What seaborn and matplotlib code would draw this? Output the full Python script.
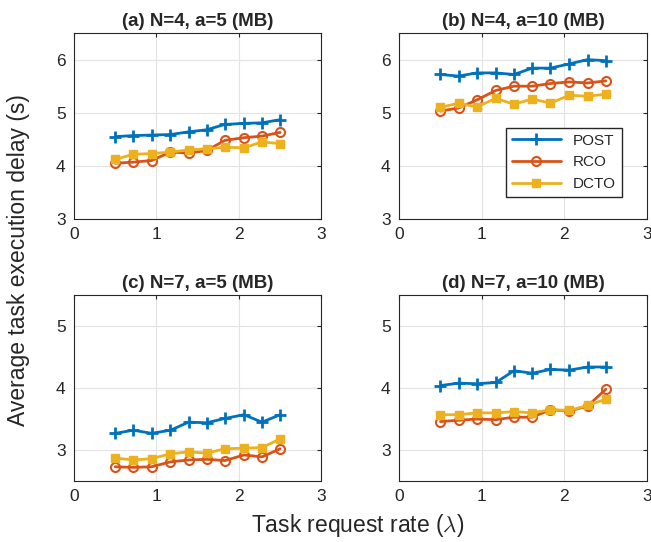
import numpy as np
import pandas as pd
import seaborn as sns
import matplotlib.pyplot as plt

# task request rate (lambda)
rate = [0.5, 0.72, 0.94, 1.17, 1.39, 1.61, 1.83, 2.06, 2.28, 2.5]

# (a) N=4, a=5
post_a = [4.55, 4.57, 4.58, 4.59, 4.64, 4.68, 4.78, 4.80, 4.81, 4.87]
rco_a = [4.05, 4.07, 4.10, 4.26, 4.24, 4.29, 4.48, 4.53, 4.56, 4.63]
dcto_a = [4.12, 4.22, 4.23, 4.26, 4.30, 4.32, 4.35, 4.34, 4.45, 4.42]

# (b) N=4, a=10
post_b = [5.72, 5.69, 5.75, 5.75, 5.72, 5.84, 5.84, 5.92, 6.00, 5.98]
rco_b = [5.03, 5.09, 5.24, 5.42, 5.50, 5.50, 5.55, 5.58, 5.56, 5.60]
dcto_b = [5.10, 5.18, 5.11, 5.27, 5.16, 5.26, 5.18, 5.33, 5.31, 5.35]

# (c) N=7, a=5
post_c = [3.27, 3.32, 3.27, 3.32, 3.45, 3.44, 3.51, 3.57, 3.45, 3.57]
rco_c = [2.73, 2.72, 2.73, 2.81, 2.84, 2.85, 2.83, 2.92, 2.89, 3.02]
dcto_c = [2.87, 2.84, 2.86, 2.94, 2.97, 2.95, 3.02, 3.03, 3.04, 3.18]

# (d) N=7, a=10
post_d = [4.04, 4.08, 4.07, 4.09, 4.28, 4.24, 4.30, 4.29, 4.34, 4.34]
rco_d = [3.46, 3.48, 3.50, 3.49, 3.53, 3.53, 3.65, 3.63, 3.71, 3.98]
dcto_d = [3.57, 3.57, 3.60, 3.60, 3.62, 3.60, 3.65, 3.64, 3.72, 3.82]

titles = ['(a) N=4, a=5 (MB)', '(b) N=4, a=10 (MB)',
          '(c) N=7, a=5 (MB)', '(d) N=7, a=10 (MB)']
panels = [(post_a, rco_a, dcto_a), (post_b, rco_b, dcto_b),
          (post_c, rco_c, dcto_c), (post_d, rco_d, dcto_d)]

sns.set_style('whitegrid')
plt.rcParams['font.family'] = ['Liberation Sans', 'DejaVu Sans']
plt.rcParams['mathtext.fontset'] = 'cm'

colors = ['#0072BD', '#D95319', '#EDB120']
names = ['POST', 'RCO', 'DCTO']
marker_kw = [
    dict(marker='+', markersize=9, markeredgewidth=2),
    dict(marker='o', markersize=6.5, markeredgewidth=1.5, markerfacecolor='none'),
    dict(marker='s', markersize=5.5, markeredgewidth=1),
]

fig = plt.figure(figsize=(6.51, 5.42), dpi=100)
boxes = [[0.1137, 0.596, 0.380, 0.343], [0.613, 0.596, 0.381, 0.343],
         [0.1137, 0.1125, 0.380, 0.343], [0.613, 0.1125, 0.381, 0.343]]

for i, (series, title) in enumerate(zip(panels, titles)):
    ax = fig.add_axes(boxes[i])
    for vals, name, c, mk in zip(series, names, colors, marker_kw):
        df = pd.DataFrame({'rate': rate, 'delay': vals})
        sns.lineplot(data=df, x='rate', y='delay', ax=ax, color=c, lw=2,
                     markeredgecolor=c, label=name, **mk)
    ax.set_xlim(0, 3)
    ax.set_xticks([0, 1, 2, 3])
    if i < 2:
        ax.set_ylim(3, 6.5)
        ax.set_yticks([3, 4, 5, 6])
    else:
        ax.set_ylim(2.5, 5.5)
        ax.set_yticks([3, 4, 5])
    ax.set_title(title, fontsize=13.5, fontweight='bold', pad=5)
    ax.set_xlabel('')
    ax.set_ylabel('')
    ax.grid(True, color='#e3e3e3', lw=0.8)
    for s in ax.spines.values():
        s.set_color('#262626')
        s.set_linewidth(0.8)
    ax.tick_params(direction='in', top=True, right=True, length=3,
                   labelsize=12.5, colors='#262626', pad=6)
    if i == 1:
        ax.legend(loc='lower right', bbox_to_anchor=(0.899, 0.118), fontsize=11,
                  frameon=True, fancybox=False, edgecolor='#262626',
                  framealpha=1, handlelength=3.2, borderpad=0.4,
                  labelspacing=0.5, borderaxespad=0)
    else:
        ax.get_legend().remove()

fig.text(0.55, 0.018, r'Task request rate ($\lambda$)', ha='center',
         fontsize=16.5, color='#262626')
fig.text(0.01, 0.52, 'Average task execution delay (s)', va='center',
         rotation=90, fontsize=16.5, color='#262626')

fig.savefig('out.png', dpi=100)
